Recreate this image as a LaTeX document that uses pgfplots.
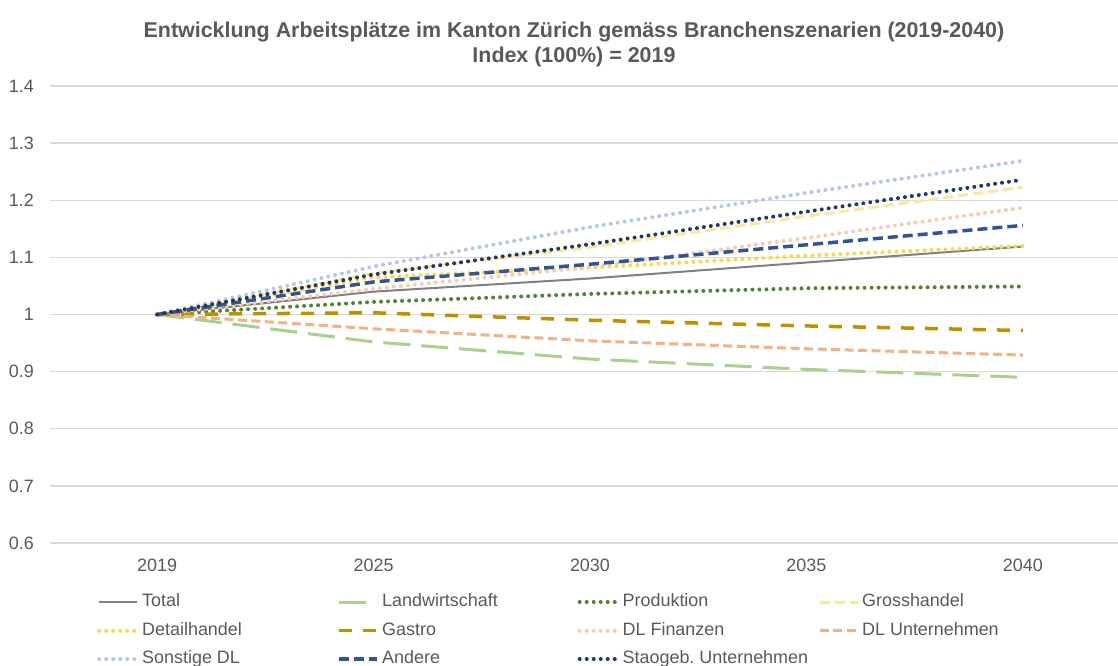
\documentclass[border=0pt]{standalone}
\usepackage{fontspec}
\setmainfont{Liberation Sans}
\usepackage{pgfplots}
\pgfplotsset{compat=1.18}
\definecolor{txtgray}{HTML}{595959}
\definecolor{gridgray}{HTML}{D9D9D9}
\definecolor{cTotal}{HTML}{808080}
\definecolor{cLand}{HTML}{A9D18E}
\definecolor{cProd}{HTML}{548235}
\definecolor{cGross}{HTML}{FFE699}
\definecolor{cDetail}{HTML}{FFD54A}
\definecolor{cGastro}{HTML}{BF9000}
\definecolor{cFin}{HTML}{F8CBAD}
\definecolor{cUnt}{HTML}{F4B183}
\definecolor{cSonst}{HTML}{B4C7E7}
\definecolor{cAndere}{HTML}{2F5597}
\definecolor{cStaat}{HTML}{203864}
\tikzset{dotline/.style={line width=4bp, line cap=round, dash pattern=on 0.01bp off 7bp}}
\begin{document}
\begin{tikzpicture}
\path[use as bounding box] (0,0) rectangle (1118bp,666bp);
\begin{axis}[
  at={(50bp,123bp)}, anchor=south west,
  scale only axis, width=1068bp, height=457bp,
  xmin=-0.495, xmax=4.44, ymin=0.6, ymax=1.4,
  xtick={0,1,2,3,4}, xticklabels={2019,2025,2030,2035,2040},
  ytick={0.6,0.7,0.8,0.9,1,1.1,1.2,1.3,1.4},
  yticklabel={\pgfmathprintnumber{\tick}},
  /pgf/number format/assume math mode=true,
  /pgf/number format/.cd, fixed, precision=1, /pgfplots/.cd,
  axis line style={draw=none}, major tick length=0pt,
  ymajorgrids, grid style={gridgray, line width=1.3bp},
  ticklabel style={font=\fontsize{18}{21}\selectfont, text=txtgray},
  yticklabel style={anchor=east, inner sep=0pt, xshift=-16bp},
  xticklabel style={anchor=north, inner sep=0pt, yshift=-16bp},
  title={Entwicklung Arbeitsplätze im Kanton Zürich gemäss Branchenszenarien (2019-2040)\\Index (100\%) = 2019},
  title style={at={(axis description cs:0.4906,1)}, anchor=south, inner sep=0pt, yshift=12.5bp, align=center, font=\bfseries\fontsize{21.5}{25}\selectfont, text=txtgray},
  legend columns=4,
  legend image code/.code={\draw[#1] (0bp,0bp) -- (38bp,0bp);},
  legend style={at={(axis description cs:0.044,-0.107)}, anchor=north west, draw=none, fill=none, inner sep=0pt, row sep=8.5bp,
    font=\fontsize{18}{21}\selectfont, text=txtgray,
    nodes={text width=192.5bp, align=flush left, inner xsep=3bp, inner ysep=2bp, text height=12.5bp, text depth=3.5bp}},
  legend cell align=left,
]
\addplot[cTotal, line width=2bp] coordinates {(0,1) (1,1.040) (2,1.063) (3,1.091) (4,1.119)};
\addlegendentry{Total}
\addplot[cLand, line width=3bp, dash pattern=on 27bp off 11bp] coordinates {(0,1) (1,0.952) (2,0.922) (3,0.904) (4,0.890)};
\addlegendentry{Landwirtschaft}
\addplot[cProd, dotline] coordinates {(0,1) (1,1.022) (2,1.036) (3,1.046) (4,1.049)};
\addlegendentry{Produktion}
\addplot[cGross, line width=3bp, dash pattern=on 10bp off 5bp] coordinates {(0,1) (1,1.072) (2,1.118) (3,1.172) (4,1.223)};
\addlegendentry{Grosshandel}
\addplot[cDetail, dotline] coordinates {(0,1) (1,1.065) (2,1.082) (3,1.103) (4,1.120)};
\addlegendentry{Detailhandel}
\addplot[cGastro, line width=3.5bp, dash pattern=on 13bp off 11bp] coordinates {(0,1) (1,1.003) (2,0.990) (3,0.980) (4,0.972)};
\addlegendentry{Gastro}
\addplot[cFin, dotline] coordinates {(0,1) (1,1.045) (2,1.083) (3,1.134) (4,1.187)};
\addlegendentry{DL Finanzen}
\addplot[cUnt, line width=3bp, dash pattern=on 9bp off 4.5bp] coordinates {(0,1) (1,0.975) (2,0.954) (3,0.940) (4,0.929)};
\addlegendentry{DL Unternehmen}
\addplot[cSonst, dotline] coordinates {(0,1) (1,1.084) (2,1.153) (3,1.213) (4,1.269)};
\addlegendentry{Sonstige DL}
\addplot[cAndere, line width=3.5bp, dash pattern=on 10bp off 5bp] coordinates {(0,1) (1,1.057) (2,1.088) (3,1.122) (4,1.156)};
\addlegendentry{Andere}
\addplot[cStaat, dotline] coordinates {(0,1) (1,1.070) (2,1.123) (3,1.180) (4,1.236)};
\addlegendentry{Staogeb.\ Unternehmen}
\end{axis}
\end{tikzpicture}
\end{document}
